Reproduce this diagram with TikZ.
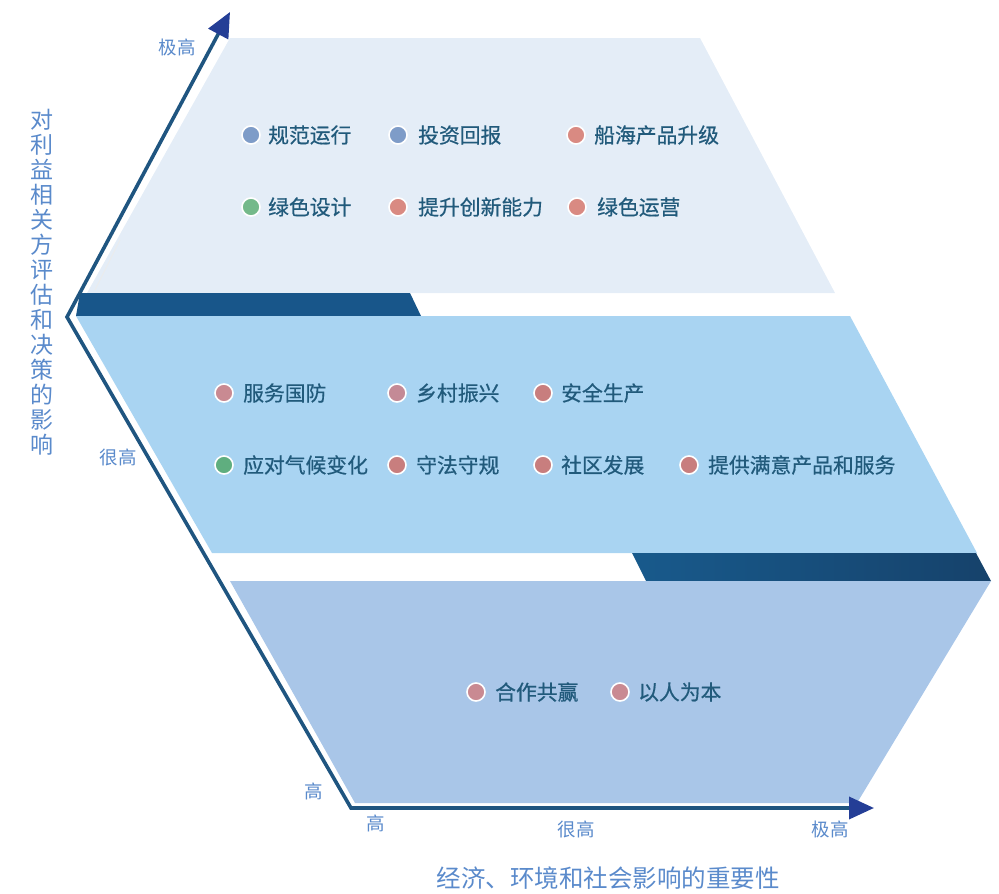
\documentclass[tikz,border=0pt]{standalone}
\usepackage{fontspec}
\newfontfamily\cjk{Noto Sans CJK SC}
\newfontfamily\cjkb[FakeBold=0.6]{Noto Sans CJK SC}
\usetikzlibrary{arrows.meta}
\definecolor{regtop}{HTML}{E4EDF7}
\definecolor{regmid}{HTML}{A9D4F2}
\definecolor{regbot}{HTML}{A9C6E8}
\definecolor{band}{HTML}{18568A}
\definecolor{bandL}{HTML}{185A8C}
\definecolor{bandR}{HTML}{16426B}
\definecolor{axisc}{HTML}{1F5580}
\definecolor{arrowc}{HTML}{243E96}
\definecolor{itemtxt}{HTML}{215A7B}
\definecolor{labc}{HTML}{5A8ACB}
\definecolor{dblue}{HTML}{7E9CC8}
\definecolor{dsalmon}{HTML}{D98A82}
\definecolor{dgreen}{HTML}{74B98A}
\definecolor{dmauve}{HTML}{C98A92}
\definecolor{dmauveb}{HTML}{C48A96}
\definecolor{dred}{HTML}{C87E7E}
\definecolor{dgreenb}{HTML}{5FAE7F}
\tikzset{
  dot/.style={circle,minimum size=18pt,inner sep=0pt,draw=white,line width=1.6pt,fill=#1},
  item/.style={anchor=west,inner sep=0pt,text=itemtxt,font=\cjkb\fontsize{20.8}{24}\selectfont},
  axlab/.style={inner sep=0pt,text=labc,font=\cjk\fontsize{18.5}{22}\selectfont},
  ttl/.style={inner sep=0pt,text=labc,font=\cjk\fontsize{24.5}{25}\selectfont},
}
\begin{document}
\begin{tikzpicture}[x=1pt,y=-1pt]
\useasboundingbox (0,0) rectangle (999,894);
% regions
\fill[regtop] (230,38) -- (700,38) -- (835,293) -- (87,293) -- cycle;
\draw[white!85!gray,line width=0.8pt] (120,240) -- (95,290);
\fill[band] (80,293) -- (410,293) -- (421,316) -- (76,316) -- cycle;
\fill[regmid] (76,316) -- (850,316) -- (977,553) -- (212,553) -- cycle;
\shade[left color=bandL,right color=bandR] (632,553) -- (976,553) -- (991,581) -- (646,581) -- cycle;
\fill[regbot] (230,581) -- (991,581) -- (857,803) -- (355,803) -- cycle;
% axes
\coordinate (ytip) at (230,12);
\coordinate (vtx) at (67,317);
\coordinate (orig) at (351,808);
\coordinate (xtip) at (874,808);
\draw[axisc,line width=3.6pt,line join=miter,
  {Triangle[length=25pt,width=22pt,color=arrowc]}-{Triangle[length=25pt,width=22pt,color=arrowc]}]
  (ytip) -- (vtx) -- (orig) -- (xtip);
% axis labels
\node[axlab] (ya) at (177,47) {极高};
\node[axlab] (yb) at (118,457) {很高};
\node[axlab] (yc) at (314,791) {高};
\node[axlab] (xa) at (376,823) {高};
\node[axlab] (xb) at (576,829) {很高};
\node[axlab] (xc) at (830,829) {极高};
\node[ttl,align=center,font=\cjk\fontsize{23}{25}\selectfont] (ytitle) at (42,282)
  {对\\利\\益\\相\\关\\方\\评\\估\\和\\决\\策\\的\\影\\响};
\node[ttl] (xtitle) at (608,878) {经济、环境和社会影响的重要性};
% top items
\node[dot=dblue] (d1) at (251,135) {};  \node[item] (t1) at (268,135) {规范运行};
\node[dot=dblue] (d2) at (398,135) {};  \node[item] (t2) at (418,135) {投资回报};
\node[dot=dsalmon] (d3) at (576,135) {}; \node[item] (t3) at (594,135) {船海产品升级};
\node[dot=dgreen] (d4) at (251,207) {};  \node[item] (t4) at (268,207) {绿色设计};
\node[dot=dsalmon] (d5) at (398,207) {}; \node[item] (t5) at (418,207) {提升创新能力};
\node[dot=dsalmon] (d6) at (577,207) {}; \node[item] (t6) at (597,207) {绿色运营};
% middle items
\node[dot=dmauve] (d7) at (224,393) {};  \node[item] (t7) at (243,393) {服务国防};
\node[dot=dmauveb] (d8) at (397,393) {}; \node[item] (t8) at (416,393) {乡村振兴};
\node[dot=dred] (d9) at (543,393) {};    \node[item] (t9) at (561,393) {安全生产};
\node[dot=dgreenb] (d10) at (224,465) {}; \node[item] (t10) at (243,465) {应对气候变化};
\node[dot=dred] (d11) at (397,465) {};   \node[item] (t11) at (416,465) {守法守规};
\node[dot=dred] (d12) at (543,465) {};   \node[item] (t12) at (561,465) {社区发展};
\node[dot=dred] (d13) at (689,465) {};   \node[item] (t13) at (708,465) {提供满意产品和服务};
% bottom items
\node[dot=dmauve] (d14) at (476,692) {}; \node[item] (t14) at (495,692) {合作共赢};
\node[dot=dmauve] (d15) at (620,692) {}; \node[item] (t15) at (638,692) {以人为本};
\end{tikzpicture}
\end{document}
